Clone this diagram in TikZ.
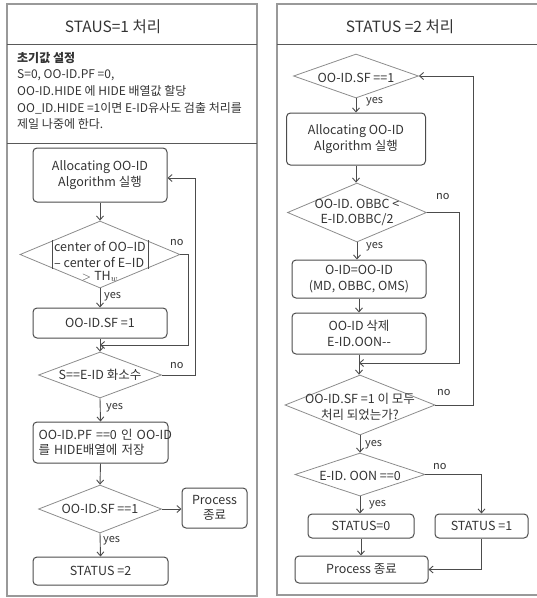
\documentclass[tikz,border=0pt]{standalone}
\usepackage{fontspec}
\setmainfont{Noto Sans CJK KR}
\usetikzlibrary{shapes.geometric,arrows.meta}
\begin{document}
\begin{tikzpicture}[x=1pt,y=-1pt,
 every node/.style={text=black!80},
 box/.style={draw=black!70,line width=1pt,rounded corners=4pt,align=center,inner sep=0pt,font=\fontsize{12.5}{15.5}\selectfont},
 dia/.style={draw=black!45,line width=0.8pt,shape=diamond,inner sep=0pt},
 dtext/.style={align=center,inner sep=0pt,font=\fontsize{12.5}{15.5}\selectfont},
 lab/.style={inner sep=0pt,font=\fontsize{11}{13}\selectfont},
 arr/.style={draw=black!70,line width=0.9pt,-{Straight Barb[length=4pt,width=7pt]}},
 ln/.style={draw=black!70,line width=0.9pt},
 frame/.style={draw=black!40,line width=1.3pt},
 sep/.style={draw=black!65,line width=1pt}]
\useasboundingbox (0,0) rectangle (537,598);
\clip (0,0) rectangle (537,598);

% ---------- frames ----------
\draw[frame] (7,4) rectangle (257,596);
\draw[sep] (7,44) -- (257,44);
\draw[sep] (7,143) -- (257,143);
\draw[frame] (277,4) rectangle (548,595);
\draw[sep] (277,44) -- (548,44);

\node[font=\fontsize{15.5}{18}\selectfont] (t1) at (113,27) {STAUS=1 처리};
\node[font=\fontsize{15.5}{18}\selectfont] (t2) at (400,27) {STATUS =2 처리};

\node[anchor=north west,align=left,inner sep=0pt,font=\fontsize{12}{16.6}\selectfont] (init) at (17,52)
 {\textbf{초기값 설정}\\S=0, OO-ID.PF =0,\\OO-ID.HIDE 에 HIDE 배열값 할당\\OO\_ID.HIDE =1이면 E-ID유사도 검출 처리를\\제일 나중에 한다.};

% ---------- left flowchart ----------
\node[box,minimum width=134pt,minimum height=54pt] (la) at (100,175) {Allocating OO-ID\\Algorithm 실행};
\node[dia,minimum width=160pt,minimum height=67pt] (ld1) at (100,254.5) {};
\node[dtext,align=left,inner xsep=2pt,inner ysep=1pt] (ld1a) at (100,254.5) {center of OO–ID\\– center of E–ID};
\node[dtext] (ld1b) at (100,276.5) {$>\mathit{TH}_w$};
\draw[draw=black!70,line width=0.8pt] (ld1a.north west) -- (ld1a.south west);
\draw[draw=black!70,line width=0.8pt] (ld1a.north east) -- (ld1a.south east);
\node[box,minimum width=134pt,minimum height=30pt] (lsf) at (100,323) {OO-ID.SF =1};
\node[dia,minimum width=123pt,minimum height=46pt] (ld2) at (100,375) {};
\node[dtext] (ld2t) at (100,375) {S==E-ID 화소수};
\node[box,text width=124pt,minimum height=41pt,align=left,inner xsep=5.5pt] (lhide) at (100.5,442.5) {\mbox{OO-ID.PF ==0 인 OO-ID}\\\mbox{를 HIDE배열에 저장}};
\node[dia,minimum width=123pt,minimum height=48pt] (ld3) at (100,509) {};
\node[dtext] (ld3t) at (100,509) {OO-ID.SF ==1};
\node[box,minimum width=65pt,minimum height=40pt] (lproc) at (214.5,508) {Process\\종료};
\node[box,minimum width=135pt,minimum height=28pt] (lstat) at (100.5,571) {STATUS =2};

\node[lab,anchor=west] (ly1) at (104,297) {yes};
\node[lab,anchor=west] (ln1) at (170,243) {no};
\node[lab,anchor=west] (ly2) at (106,408) {yes};
\node[lab,anchor=west] (ln2) at (170,366) {no};
\node[lab,anchor=west] (ly3) at (103,541) {yes};

\coordinate (j1) at (100,345);
\draw[arr] (la.south) -- (ld1.north);
\draw[arr] (ld1.south) -- (lsf.north);
\draw[arr] (lsf.south) -- (ld2.north);
\draw[arr] (ld1.east) -- (188,254.5) -- (188,345) -- (j1);
\draw[arr] (ld2.east) -- (195,375) -- (195,178) -- (la.east |- 0,178);
\draw[arr] (ld2.south) -- (lhide.north);
\draw[arr] (lhide.south) -- (ld3.north);
\draw[arr] (ld3.east) -- (lproc.west |- ld3.east);
\draw[arr] (ld3.south) -- (lstat.north);

% ---------- right flowchart ----------
\node[dia,minimum width=125pt,minimum height=44pt] (ra) at (356,76) {};
\node[dtext] (rat) at (356,78) {OO-ID.SF ==1};
\node[box,minimum width=139pt,minimum height=52pt] (rb) at (356,139) {Allocating OO-ID\\Algorithm 실행};
\node[dia,minimum width=139pt,minimum height=59pt] (rd1) at (357,212.5) {};
\node[dtext] (rd1t) at (357,212.5) {OO-ID. OBBC <\\E-ID.OBBC/2};
\node[box,minimum width=134pt,minimum height=38pt] (rc) at (359,279) {O-ID=OO-ID\\(MD, OBBC, OMS)};
\node[box,minimum width=134pt,minimum height=41pt] (rdel) at (359,333.5) {OO-ID 삭제\\E-ID.OON-{}-};
\node[dia,minimum width=150pt,minimum height=60pt] (rd2) at (360,405) {};
\node[dtext] (rd2t) at (360,407) {OO-ID.SF =1 이 모두\\처리 되었는가?};
\node[dia,minimum width=130pt,minimum height=43pt] (rd3) at (360,474.5) {};
\node[dtext] (rd3t) at (360,476) {E-ID. OON ==0};
\node[box,minimum width=106pt,minimum height=24pt] (rs0) at (361,526) {STATUS=0};
\node[box,minimum width=93pt,minimum height=24pt] (rs1) at (481.5,526) {STATUS =1};
\node[box,minimum width=133pt,minimum height=27pt] (rproc) at (361.5,569.5) {Process 종료};

\node[lab,anchor=west] (ry1) at (366,102) {yes};
\node[lab,anchor=west] (rn1) at (436,197) {no};
\node[lab,anchor=west] (ry2) at (366,247) {yes};
\node[lab,anchor=west] (rn2) at (437,393) {no};
\node[lab,anchor=west] (ry3) at (365,445) {yes};
\node[lab,anchor=west] (rn3) at (433,467) {no};
\node[lab,anchor=west] (ry4) at (369,505) {yes};

\coordinate (j2) at (359,363);
\draw[arr] (ra.south) -- (rb.north -| ra.south);
\draw[arr] (rb.south) -- (rd1.north -| rb.south);
\draw[arr] (rd1.south) -- (rc.north -| rd1.south);
\draw[arr] (rc.south) -- (rdel.north);
\draw[arr] (rdel.south) -- (rd2.north -| rdel.south);
\draw[arr] (rd1.east) -- (459,212.5) -- (459,363) -- (j2);
\draw[arr] (rd2.east) -- (473,405) -- (473,76) -- (ra.east);
\draw[arr] (rd2.south) -- (rd3.north);
\draw[arr] (rd3.east) -- (rd3.east -| rs1.north) -- (rs1.north);
\draw[arr] (rd3.south) -- (rs0.north -| rd3.south);
\draw[arr] (rs0.south) -- (rproc.north -| rs0.south);
\draw[arr] (rs1.south) -- (rs1.south |- rproc.east) -- (rproc.east);
\end{tikzpicture}
\end{document}
